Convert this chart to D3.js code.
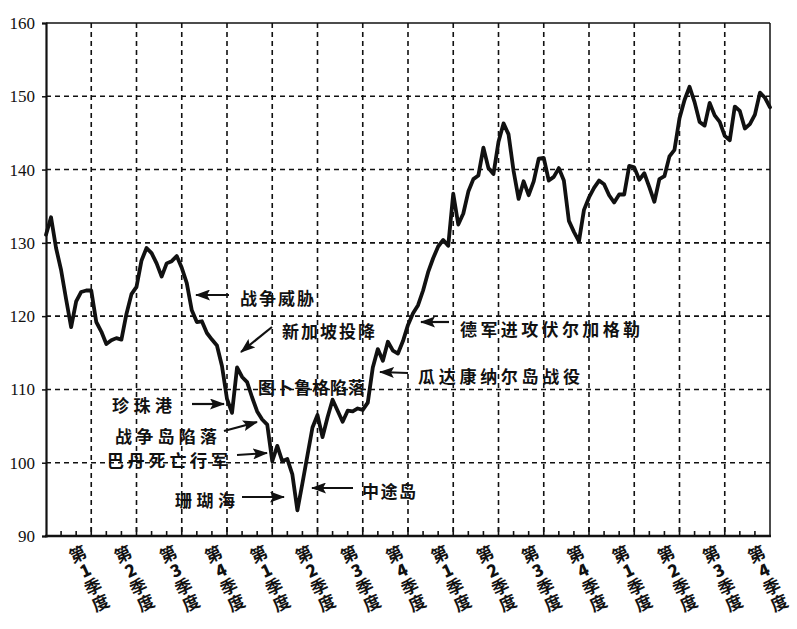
<!DOCTYPE html>
<html>
<head>
<meta charset="utf-8">
<script src="https://cdn.jsdelivr.net/npm/d3@7"></script>
<style>
  html, body { margin: 0; padding: 0; background: #fff; }
  svg { display: block; }
</style>
</head>
<body>
<svg id="chart" width="797" height="629"></svg>
<script>
// ---- data (3 points per month, 16 quarters) ----
const quarterLabels = ["1","2","3","4","1","2","3","4","1","2","3","4","1","2","3","4"];
const yTicks = [90, 100, 110, 120, 130, 140, 150, 160];
const monthsPerPoint = 1 / 3;
const index = [
  131.1, 133.5, 129.3, 126.3, 122.3, 118.5, 122.0, 123.3, 123.5, 123.5,
  119.2, 117.9, 116.2, 116.7, 117.0, 116.8, 120.3, 123.0, 124.0, 127.6,
  129.3, 128.6, 127.2, 125.4, 127.2, 127.5, 128.2, 126.6, 124.5, 120.8,
  119.2, 119.3, 117.7, 116.8, 116.0, 113.2, 108.7, 106.8, 113.0, 111.7,
  111.0, 108.9, 107.0, 105.9, 105.2, 100.2, 102.3, 100.2, 100.5, 98.4,
  93.5, 97.2, 101.0, 104.8, 106.5, 103.5, 106.2, 108.6, 107.1, 105.6,
  107.1, 107.0, 107.4, 107.2, 108.2, 113.0, 115.5, 113.9, 116.5, 115.3,
  114.9, 116.6, 118.8, 120.4, 121.5, 123.5, 126.0, 127.9, 129.5, 130.4,
  129.6, 136.7, 132.5, 134.0, 137.0, 138.7, 139.2, 143.0, 140.2, 139.4,
  143.8, 146.3, 144.8, 139.8, 136.0, 138.4, 136.5, 138.4, 141.5, 141.6,
  138.5, 139.0, 140.2, 138.5, 133.0, 131.5, 130.2, 134.5, 136.2, 137.5,
  138.5, 138.0, 136.5, 135.5, 136.6, 136.6, 140.5, 140.3, 138.6, 139.5,
  137.6, 135.6, 138.7, 139.1, 141.8, 142.7, 147.0, 149.5, 151.3, 149.2,
  146.5, 146.0, 149.1, 147.4, 146.5, 144.6, 144.0, 148.6, 148.0, 145.6,
  146.2, 147.5, 150.5, 149.8, 148.5
];
const events = ["战争威胁","新加坡投降","图卜鲁格陷落","珍珠港","战争岛陷落","巴丹死亡行军","珊瑚海","中途岛","瓜达康纳尔岛战役","德军进攻伏尔加格勒"];

// ---- layout ----
const svg = d3.select("#chart");
const x = d3.scaleLinear().domain([0, 48]).range([46, 770]);
const y = d3.scaleLinear().domain([90, 160]).range([536, 23]);
const ink = "#111";

// horizontal dashed gridlines
svg.append("g").selectAll("line")
  .data(yTicks.filter(v => v > 90 && v < 160))
  .join("line")
  .attr("x1", x(0)).attr("x2", x(48))
  .attr("y1", d => y(d)).attr("y2", d => y(d))
  .attr("stroke", ink).attr("stroke-width", 1.6).attr("stroke-dasharray", "5,4");

// vertical dashed gridlines at quarter ends
svg.append("g").selectAll("line")
  .data(d3.range(3, 48, 3))
  .join("line")
  .attr("x1", d => x(d)).attr("x2", d => x(d))
  .attr("y1", y(160)).attr("y2", y(90))
  .attr("stroke", ink).attr("stroke-width", 1.6).attr("stroke-dasharray", "5,4");

// frame: top and right thin, left and bottom heavy
svg.append("line").attr("x1", x(0)).attr("x2", x(48)).attr("y1", y(160)).attr("y2", y(160))
  .attr("stroke", ink).attr("stroke-width", 1.5);
svg.append("line").attr("x1", x(48)).attr("x2", x(48)).attr("y1", y(160)).attr("y2", y(90))
  .attr("stroke", ink).attr("stroke-width", 1.5);

// month ticks on bottom axis
svg.append("g").selectAll("line")
  .data(d3.range(1, 48))
  .join("line")
  .attr("x1", d => x(d)).attr("x2", d => x(d))
  .attr("y1", y(90)).attr("y2", d => y(90) - (d % 3 === 0 ? 9 : 5))
  .attr("stroke", ink).attr("stroke-width", 1.6);

// y axis
const yAxis = d3.axisLeft(y).tickValues(yTicks).tickSize(4).tickPadding(7).tickFormat(d3.format("d"));
const gy = svg.append("g").attr("transform", `translate(${x(0)},0)`).call(yAxis);
gy.select(".domain").attr("stroke", ink).attr("stroke-width", 2.2);
gy.selectAll(".tick line").attr("stroke", ink).attr("stroke-width", 1.5);
gy.selectAll(".tick text")
  .attr("font-family", "'Liberation Serif', 'DejaVu Serif', serif")
  .attr("font-size", 17).attr("fill", ink);

// bottom axis line
svg.append("line").attr("x1", x(0) - 1).attr("x2", x(48) + 1).attr("y1", y(90)).attr("y2", y(90))
  .attr("stroke", ink).attr("stroke-width", 2.4);

// quarter labels (slanted vertical text)
const qg = svg.append("g")
  .attr("font-family", "'Noto Sans CJK SC', sans-serif")
  .attr("font-weight", 700).attr("font-size", 17).attr("fill", ink);
quarterLabels.forEach((q, i) => {
  const g = qg.append("g")
    .attr("transform", `translate(${x((i + 1) * 3) - 14},553) rotate(-25)`);
  ["第", q, "季", "度"].forEach((ch, j) => {
    g.append("text").attr("x", 0).attr("y", j * 18)
      .attr("text-anchor", "middle").attr("dominant-baseline", "central")
      .attr("font-weight", ch === q ? 800 : 700)
      .text(ch);
  });
});

// price line
const line = d3.line().x((d, i) => x(i * monthsPerPoint)).y(d => y(d));
svg.append("path").datum(index)
  .attr("d", line).attr("fill", "none")
  .attr("stroke", ink).attr("stroke-width", 3.8)
  .attr("stroke-linejoin", "round").attr("stroke-linecap", "round");

// arrow marker
svg.append("defs").append("marker")
  .attr("id", "arr").attr("markerUnits", "userSpaceOnUse")
  .attr("markerWidth", 15).attr("markerHeight", 11)
  .attr("refX", 14).attr("refY", 5.5).attr("orient", "auto")
  .append("path").attr("d", "M0,0 L15,5.5 L0,11 L3,5.5 z").attr("fill", ink);

// annotation layout: text left x, centre y, text width, arrow from -> to
const eventLayout = [
  { tx: 240, ty: 297, w: 74, a: [229, 295, 196, 295] },
  { tx: 282, ty: 330, w: 93, a: [272, 327, 241, 352] },
  { tx: 258, ty: 386, w: 107, a: null },
  { tx: 112, ty: 404, w: 60, a: [192, 404, 224, 404] },
  { tx: 115, ty: 435, w: 102, a: [224, 431, 257, 422] },
  { tx: 107, ty: 459, w: 121, a: [237, 455, 267, 453] },
  { tx: 175, ty: 499, w: 60, a: [242, 497, 284, 497] },
  { tx: 362, ty: 490, w: 54, a: [353, 488, 312, 488] },
  { tx: 418, ty: 375, w: 162, a: [408, 373, 380, 372] },
  { tx: 460, ty: 328, w: 180, a: [449, 322, 421, 322] }
];
const ag = svg.append("g");
events.forEach((t, i) => {
  const L = eventLayout[i];
  ag.append("text")
    .attr("x", L.tx).attr("y", L.ty)
    .attr("dominant-baseline", "central")
    .attr("font-family", "'Noto Sans CJK SC', sans-serif")
    .attr("font-weight", 700).attr("font-size", 17).attr("fill", ink)
    .attr("textLength", L.w).attr("lengthAdjust", "spacing")
    .text(t);
  if (L.a) {
    ag.append("line")
      .attr("x1", L.a[0]).attr("y1", L.a[1]).attr("x2", L.a[2]).attr("y2", L.a[3])
      .attr("stroke", ink).attr("stroke-width", 2.2)
      .attr("marker-end", "url(#arr)");
  }
});
</script>
</body>
</html>
